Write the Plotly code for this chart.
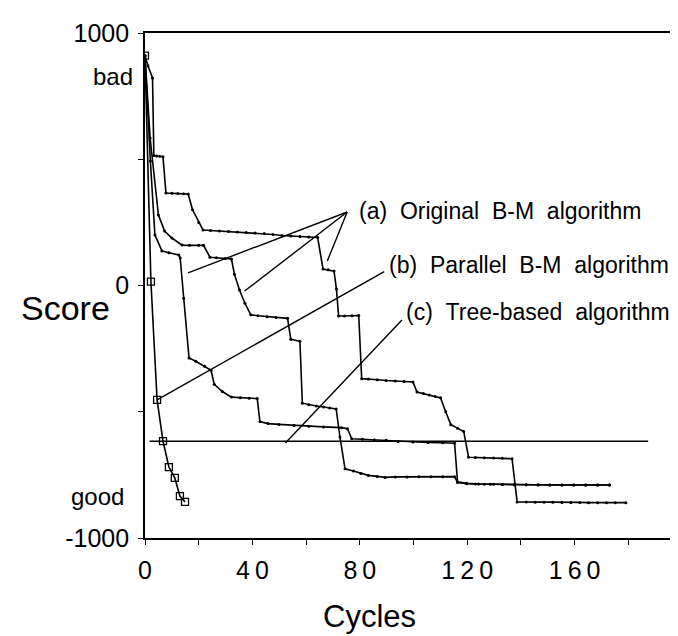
import plotly.graph_objects as go

# ---------------- data ----------------
a1_cycles = [0, 1.1, 2.8, 3.3, 4.4, 5.5, 6.7, 7.8, 10, 12.2, 14.4, 16.1, 17.7, 20, 21.6, 24.4,
             27.7, 31.1, 34.4, 37.7, 41, 44.4, 47.7, 51, 54.3, 57.7, 61, 64.3, 66.3, 68.2, 70.4,
             71.3, 72.1, 74.3, 77.1, 79.6, 80.7, 83.2, 86.5, 89.8, 93.2, 96.5, 99.8, 101.3,
             103.7, 105.9, 108.1, 110.1, 112, 113.9, 116.4, 118.7, 120.5, 123.1, 126.4, 129.8,
             133.1, 136.7, 138.6, 142, 145.3, 148.6, 151.9, 155.3, 158.6, 161.9, 165.2, 168.6,
             171.9, 175.2, 179.1]
a1_scores = [910, 870, 822, 515, 513, 512, 510, 366, 365, 364, 363, 362, 300, 250, 220, 218, 216,
             214, 212, 210, 208, 206, 202, 198, 196, 194, 192, 190, 65, 62, 57, -14, -121, -121,
             -120, -119, -369, -370, -373, -376, -378, -380, -382, -422, -428, -434, -440, -445,
             -500, -551, -565, -578, -680, -681, -682, -683, -684, -686, -857, -857, -858, -858,
             -858, -859, -859, -859, -860, -860, -860, -860, -860]

a2_cycles = [0, 1.9, 5, 7.3, 10, 13.8, 16.6, 20, 21.8, 24.2, 26.6, 29.9, 32.2, 33.3, 35.2, 37.2,
             39.4, 42.1, 45.5, 48.8, 53.1, 54.3, 57.7, 58.6, 61, 63.8, 66.5, 68.8, 71.2, 72.6,
             74.5, 77.6, 80.4, 83.2, 86.5, 89.4, 93.2, 97.6, 102, 106.5, 110.9, 115.3, 116.4,
             119.8, 123.1, 126.4, 129.8, 133.1, 137.5, 142, 146.4, 150.8, 155.3, 159.7, 164.1,
             168.6, 173]
a2_scores = [910, 584, 279, 216, 188, 160, 159, 159, 159, 112, 110, 107, 105, 45, -18, -70, -116,
             -120, -124, -127, -130, -213, -221, -466, -472, -477, -481, -485, -489, -600, -726,
             -735, -745, -752, -756, -760, -758, -758, -757, -757, -757, -757, -780, -785, -786,
             -787, -787, -788, -789, -789, -789, -790, -790, -790, -790, -790, -790]

a3_cycles = [0, 2, 3.7, 6.3, 8.9, 12.6, 13.1, 14.4, 16.4, 18.9, 22.2, 24.6, 25.8, 28.8, 32.2,
             35.5, 38.8, 41.8, 42.8, 45.8, 49.9, 55.5, 61, 66.5, 73.2, 75.4, 77, 81, 85.4, 89.8,
             94.3, 99.8, 105.4, 110.9, 115.3, 116.4, 119.8, 124.2, 128.6, 133.1, 137.5, 142,
             146.4, 150.8, 155.3, 159.7, 164.1, 168.6, 173]
a3_scores = [910, 493, 200, 137, 130, 121, 109, -50, -287, -300, -320, -336, -391, -420, -442,
             -445, -447, -448, -539, -547, -550, -554, -557, -560, -563, -567, -607, -609, -611,
             -613, -618, -620, -622, -623, -625, -777, -783, -786, -787, -788, -789, -789, -790,
             -790, -790, -790, -790, -790, -790]

b_cycles = [0, 2.2, 4.5, 6.7, 8.9, 11.1, 13, 14.9]
b_scores = [910, 15, -453, -616, -719, -762, -834, -857]

c_cycles = [1.7, 187.4]
c_scores = [-617, -617]

x_tickvals = [0, 20, 40, 60, 80, 100, 120, 140, 160, 180]
x_ticktext = ["0", "", "4\u20090", "", "8\u20090", "", "1\u20092\u20090", "", "1\u20096\u20090", ""]
y_tickvals = [-1000, -500, 0, 500, 1000]
y_ticktext = ["-1000", "", "0", "", "1000"]

labels = ["(a)\u00a0\u00a0Original\u00a0\u00a0B-M\u00a0\u00a0algorithm",
          "(b)\u00a0\u00a0Parallel\u00a0\u00a0B-M\u00a0\u00a0algorithm",
          "(c)\u00a0\u00a0Tree-based\u00a0\u00a0algorithm"]

# ---------------- figure ----------------
FONT = "Liberation Sans, Arial, Helvetica, sans-serif"
W, H = 678, 636
L, R, T, B = 137, 2, 25, 106

fig = go.Figure()
for cx, cy in [(a1_cycles, a1_scores), (a2_cycles, a2_scores), (a3_cycles, a3_scores)]:
    fig.add_trace(go.Scatter(x=cx, y=cy, mode="lines+markers",
                             line=dict(color="black", width=1.6),
                             marker=dict(symbol="circle", size=3, color="black")))
fig.add_trace(go.Scatter(x=b_cycles, y=b_scores, mode="lines+markers",
                         line=dict(color="black", width=1.6),
                         marker=dict(symbol="square-open", size=7, color="black",
                                     line=dict(width=1.3))))
fig.add_trace(go.Scatter(x=c_cycles, y=c_scores, mode="lines",
                         line=dict(color="black", width=1.6)))

# pointer lines (annotation geometry, data coords)
pointers = [
    ((75.3, 291), (16.0, 50)),
    ((75.3, 291), (37.1, -22)),
    ((75.3, 291), (67.9, 97)),
    ((89.1, 55), (4.5, -453)),
    ((95.7, -137), (52.3, -624)),
]
for (x0, y0), (x1, y1) in pointers:
    fig.add_shape(type="line", x0=x0, y0=y0, x1=x1, y1=y1, xref="x", yref="y",
                  line=dict(color="black", width=1.4))

label_pos = [(79.0, 296), (90.2, 80), (96.5, -105)]
for txt, (lx, ly) in zip(labels, label_pos):
    fig.add_annotation(x=lx, y=ly, xref="x", yref="y", text=txt, showarrow=False,
                       xanchor="left", yanchor="middle",
                       font=dict(family=FONT, size=23, color="black"))


def px2paper(px, py):
    return (px - L) / (W - L - R), (H - B - py) / (H - T - B)


for txt, px, py, xa, size in [("bad", 127, 69, "right", 24), ("good", 118, 488, "right", 24),
                              ("Score", 104, 300, "right", 34), ("Cycles", 362, 608, "center", 31)]:
    xp, yp = px2paper(px, py)
    fig.add_annotation(x=xp, y=yp, xref="paper", yref="paper", text=txt, showarrow=False,
                       xanchor=xa, yanchor="middle",
                       font=dict(family=FONT, size=size, color="black"))

fig.update_layout(
    width=W, height=H, margin=dict(l=L, r=R, t=T, b=B),
    plot_bgcolor="white", paper_bgcolor="white", showlegend=False,
    font=dict(family=FONT, color="black"),
)
fig.update_xaxes(range=[0, 200], showline=True, linecolor="black", linewidth=1.6, mirror=True,
                 showgrid=False, zeroline=False, ticks="outside", ticklen=5, tickwidth=1.2,
                 tickcolor="black", tickvals=x_tickvals, ticktext=x_ticktext,
                 tickfont=dict(family=FONT, size=25), ticklabelstandoff=4)
fig.update_yaxes(range=[-1000, 1000], showline=True, linecolor="black", linewidth=1.6, mirror=True,
                 showgrid=False, zeroline=False, ticks="outside", ticklen=5, tickwidth=1.2,
                 tickcolor="black", tickvals=y_tickvals, ticktext=y_ticktext,
                 tickfont=dict(family=FONT, size=25), ticklabelstandoff=4)

fig.write_html("out.html")
